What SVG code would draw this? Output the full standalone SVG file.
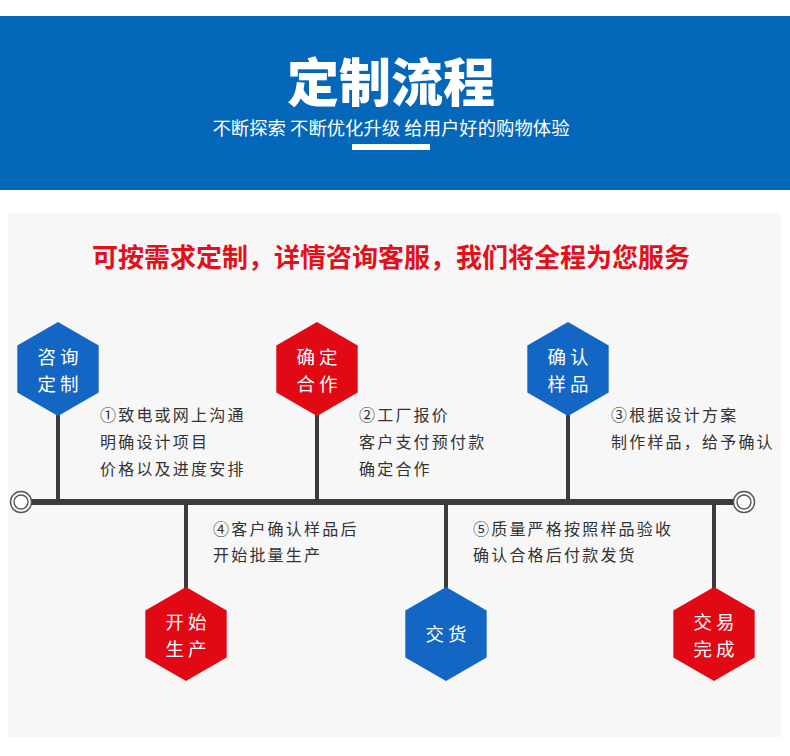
<svg xmlns="http://www.w3.org/2000/svg" xmlns:xlink="http://www.w3.org/1999/xlink" width="790" height="756" viewBox="0 0 790 756">
<style>
.cjk{font-family:"Noto Sans CJK SC","Noto Sans",sans-serif}
.hx{font-family:"Noto Sans CJK SC",sans-serif;font-size:18.5px;fill:#fff;text-anchor:middle;letter-spacing:4px}
.desc{font-family:"Noto Sans CJK SC",sans-serif;font-size:16px;fill:#333;letter-spacing:2.2px}
.stem{stroke:#3b3b3b;stroke-width:4;fill:none}
.blue{fill:#1366C4}
.red{fill:#E10A14}
.ring{fill:#fff;stroke:#555;stroke-width:1.4}
</style>
<defs>
<polygon id="hex" points="0,-47 40.7,-23.5 40.7,23.5 0,47 -40.7,23.5 -40.7,-23.5"/>
</defs>
<rect x="0" y="0" width="790" height="756" fill="#fff"/>
<g id="header">
<rect x="0" y="16" width="790" height="174" fill="#0567BA"/>
<text x="391" y="102" class="cjk" font-size="52" font-weight="900" fill="#fff" text-anchor="middle">定制流程</text>
<text x="391" y="135" class="cjk" font-size="18" fill="#fff" text-anchor="middle" textLength="357" lengthAdjust="spacingAndGlyphs">不断探索 不断优化升级 给用户好的购物体验</text>
<rect x="352" y="144" width="78" height="6" fill="#fff"/>
</g>
<g id="panel">
<rect x="8" y="213" width="773" height="524" fill="#F7F7F7"/>
<text x="391" y="267" class="cjk" font-size="26" font-weight="bold" fill="#E60F19" text-anchor="middle" textLength="598" lengthAdjust="spacingAndGlyphs">可按需求定制，详情咨询客服，我们将全程为您服务</text>
</g>
<g id="connectors">
<line x1="28" y1="502" x2="736" y2="502" stroke="#3b3b3b" stroke-width="6"/>
<line class="stem" x1="58" y1="410" x2="58" y2="502"/>
<line class="stem" x1="317" y1="410" x2="317" y2="502"/>
<line class="stem" x1="568" y1="410" x2="568" y2="502"/>
<line class="stem" x1="186" y1="502" x2="186" y2="592"/>
<line class="stem" x1="446" y1="502" x2="446" y2="592"/>
<line class="stem" x1="714" y1="502" x2="714" y2="592"/>
<g id="start-ring"><circle class="ring" cx="21" cy="502" r="10.5"/><circle class="ring" cx="21" cy="502" r="7"/></g>
<g id="end-ring"><circle class="ring" cx="744" cy="502" r="10.5"/><circle class="ring" cx="744" cy="502" r="7"/></g>
</g>
<g id="n1">
<use xlink:href="#hex" x="58" y="369" class="blue"/>
<text class="hx"><tspan x="60" y="364">咨询</tspan><tspan x="60" y="391">定制</tspan></text>
<text class="desc"><tspan x="100" y="421">①致电或网上沟通</tspan><tspan x="100" y="448">明确设计项目</tspan><tspan x="100" y="475">价格以及进度安排</tspan></text>
</g>
<g id="n2">
<use xlink:href="#hex" x="317" y="369" class="red"/>
<text class="hx"><tspan x="319" y="364">确定</tspan><tspan x="319" y="391">合作</tspan></text>
<text class="desc"><tspan x="359" y="421">②工厂报价</tspan><tspan x="359" y="448">客户支付预付款</tspan><tspan x="359" y="475">确定合作</tspan></text>
</g>
<g id="n3">
<use xlink:href="#hex" x="568" y="369" class="blue"/>
<text class="hx"><tspan x="570" y="364">确认</tspan><tspan x="570" y="391">样品</tspan></text>
<text class="desc"><tspan x="611" y="421">③根据设计方案</tspan><tspan x="611" y="448">制作样品，给予确认</tspan></text>
</g>
<g id="n4">
<use xlink:href="#hex" x="186" y="634" class="red"/>
<text class="hx"><tspan x="188" y="629">开始</tspan><tspan x="188" y="656">生产</tspan></text>
<text class="desc"><tspan x="213" y="535">④客户确认样品后</tspan><tspan x="213" y="561">开始批量生产</tspan></text>
</g>
<g id="n5">
<use xlink:href="#hex" x="446" y="634" class="blue"/>
<text class="hx" x="448" y="641">交货</text>
<text class="desc"><tspan x="473" y="535">⑤质量严格按照样品验收</tspan><tspan x="473" y="561">确认合格后付款发货</tspan></text>
</g>
<g id="n6">
<use xlink:href="#hex" x="714" y="634" class="red"/>
<text class="hx"><tspan x="716" y="629">交易</tspan><tspan x="716" y="656">完成</tspan></text>
</g>
</svg>
